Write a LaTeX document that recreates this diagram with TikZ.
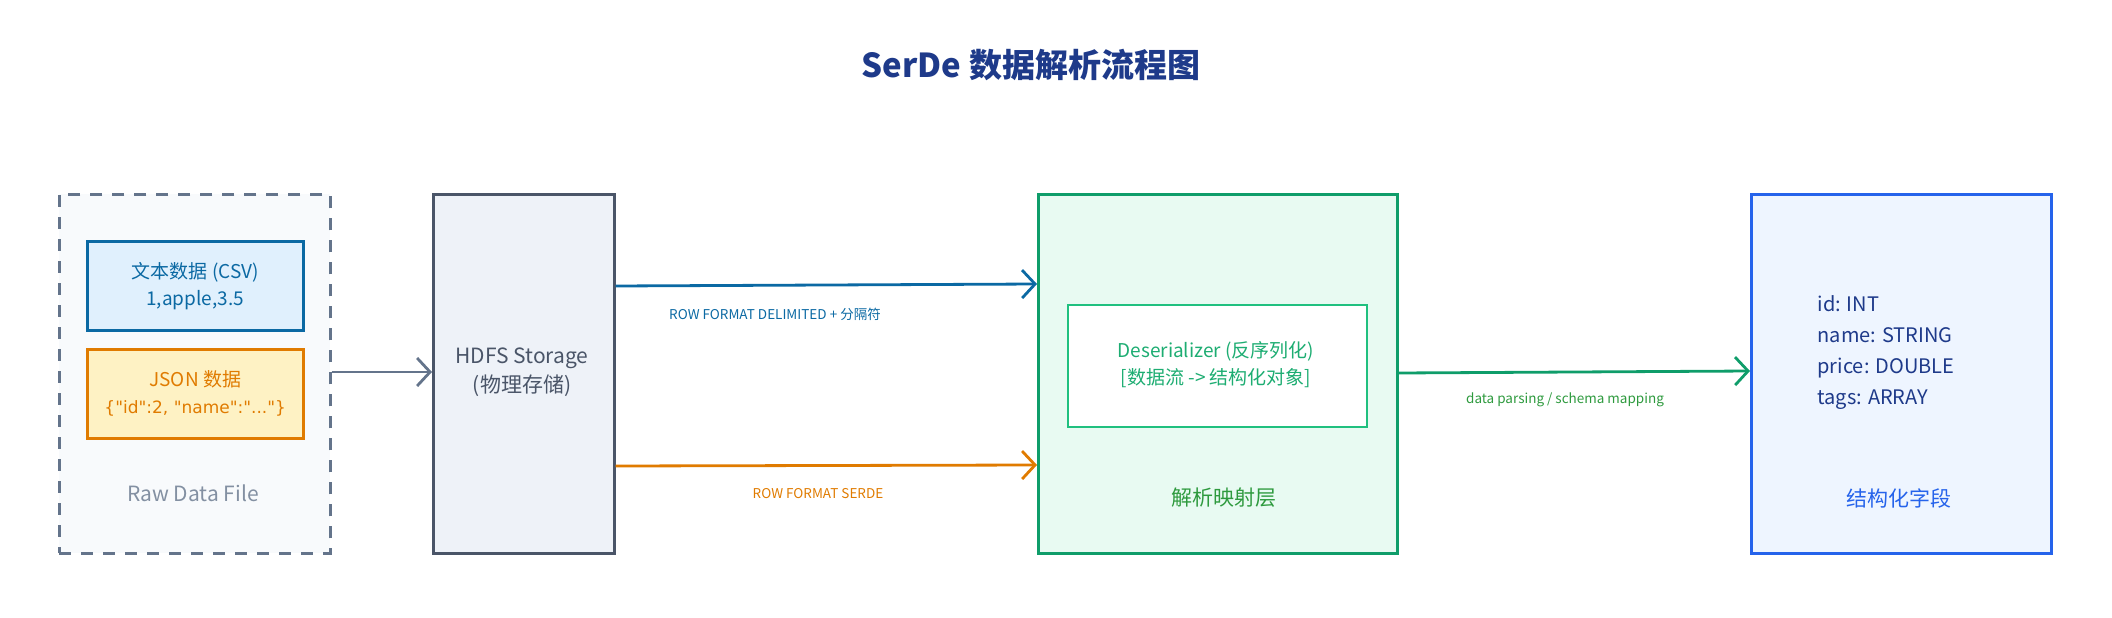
\documentclass[tikz,border=0pt]{standalone}
\usepackage{fontspec}
\setmainfont{Noto Sans CJK SC}
\newfontfamily\lat{DejaVu Sans}
\usetikzlibrary{arrows.meta}
\definecolor{tblue}{HTML}{1E3A8A}
\definecolor{cblue}{HTML}{0B69A3}
\definecolor{cbluef}{HTML}{E0F0FD}
\definecolor{jor}{HTML}{E07B00}
\definecolor{jorf}{HTML}{FEF2C4}
\definecolor{hgray}{HTML}{4A5568}
\definecolor{hgrayf}{HTML}{EEF2F8}
\definecolor{dgray}{HTML}{64748B}
\definecolor{dgrayf}{HTML}{F8FAFC}
\definecolor{pgreen}{HTML}{0F9D6A}
\definecolor{pgreenf}{HTML}{E8FAF2}
\definecolor{igreen}{HTML}{20C07F}
\definecolor{ogreen}{HTML}{2E9A3E}
\definecolor{oblue}{HTML}{2563EB}
\definecolor{obluef}{HTML}{EEF5FF}
\begin{document}
\begin{tikzpicture}[x=1pt,y=-1pt,
  box/.style={draw,line width=2.5pt,minimum width=#1,inner sep=0pt,anchor=north west},
  arr/.style={line width=2.8pt,-{Straight Barb[length=13pt,width=28pt,line width=2.8pt]}},
  lbl/.style={font=\fontsize{13.5}{16}\selectfont}]
\useasboundingbox (0,0) rectangle (2112,618);
\node[tblue,font=\fontsize{33}{40}\selectfont\bfseries] (title) at (1031,65) {SerDe 数据解析流程图};
% raw
\node[box=271pt,minimum height=359pt,draw=dgray,fill=dgrayf,dash pattern=on 12pt off 10pt] (raw) at (58,193) {};
\node[box=216pt,minimum height=89pt,draw=cblue,fill=cbluef,text=cblue,align=center,font=\fontsize{19}{27}\selectfont] (csv) at (86,240) {文本数据 (CSV)\\1,apple,3.5};
\node[box=216pt,minimum height=89pt,draw=jor,fill=jorf,text=jor,align=center,font=\fontsize{19}{27}\selectfont] (json) at (86,348) {JSON 数据\\{\lat\fontsize{17}{27}\selectfont\{"id":2, "name":"..."\}}};
\node[dgray!80,font=\fontsize{21}{24}\selectfont] (rawl) at (193,493) {Raw Data File};
% hdfs
\node[box=181pt,minimum height=359pt,draw=hgray,fill=hgrayf] (hdfs) at (432,193) {};
\node[hgray,align=center,font=\fontsize{21}{29}\selectfont] (hdfsl) at (522,372) {HDFS Storage\\(物理存储)};
% parser
\node[box=359pt,minimum height=359pt,draw=pgreen,fill=pgreenf] (parse) at (1037,193) {};
\node[box=299pt,minimum height=122pt,draw=igreen,fill=white,line width=2pt] (deser) at (1067,304) {};
\node[igreen!90!black,align=center,font=\fontsize{19}{27}\selectfont] (deserl) at (1216,365) {Deserializer (反序列化)\\{}[数据流 -> 结构化对象]};
\node[ogreen,font=\fontsize{21}{24}\selectfont] (parsel) at (1224,498) {解析映射层};
% output
\node[box=300pt,minimum height=359pt,draw=oblue,fill=obluef] (out) at (1750,193) {};
\node[tblue,align=left,anchor=west,font=\fontsize{20}{31}\selectfont] (fields) at (1814,353) {id: INT\\name: STRING\\price: DOUBLE\\tags: ARRAY};
\node[oblue,font=\fontsize{21}{24}\selectfont] (outl) at (1899,498) {结构化字段};
% arrows
\draw[arr,draw=dgray] (raw.east|-0,372) -- (hdfs.west|-0,372);
\draw[arr,draw=cblue] (hdfs.east|-0,286) -- (parse.west|-0,284);
\node[lbl,cblue] (l1) at (775,314) {ROW FORMAT DELIMITED + 分隔符};
\draw[arr,draw=jor] (hdfs.east|-0,466) -- (parse.west|-0,465);
\node[lbl,jor] (l2) at (818,494) {ROW FORMAT SERDE};
\draw[arr,draw=pgreen] (parse.east|-0,373) -- (out.west|-0,371);
\node[lbl,ogreen] (l3) at (1565,400) {data parsing / schema mapping};
\end{tikzpicture}
\end{document}
